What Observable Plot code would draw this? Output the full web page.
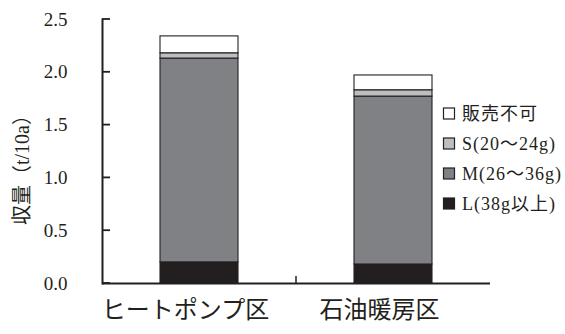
<!DOCTYPE html>
<html><head><meta charset="utf-8">
<script src="https://cdn.jsdelivr.net/npm/d3@7"></script>
<script src="https://cdn.jsdelivr.net/npm/@observablehq/plot@0.6"></script>
<style>
body{margin:0;background:#fff}
#chart{position:relative;width:565px;height:334px}
</style>
</head><body><div id="chart"></div>
<script>
const categories = ["ヒートポンプ区", "石油暖房区"];
const series = ["L(38g以上)", "M(26～36g)", "S(20～24g)", "販売不可"];
const colors = ["#231f20", "#808184", "#bcbec0", "#ffffff"];
const valuesL = [0.20, 0.18];
const valuesM = [1.93, 1.59];
const valuesS = [0.05, 0.06];
const valuesU = [0.16, 0.14];
const yTicks = [0, 0.5, 1.0, 1.5, 2.0, 2.5];
const yTickLabels = ["0.0", "0.5", "1.0", "1.5", "2.0", "2.5"];
const yLabel = "収量（t/10a）";

const seriesValues = [valuesL, valuesM, valuesS, valuesU];
const data = [];
series.forEach((s, i) => categories.forEach((c, j) => data.push({category: c, series: s, value: seriesValues[i][j]})));

const ink = "#231f20";
const font = '"Liberation Serif", "Noto Sans CJK JP", serif';
const mLeft = 102;

const plot = Plot.plot({
  width: 565,
  height: 334,
  marginLeft: mLeft,
  marginRight: 75,
  marginTop: 19,
  marginBottom: 51,
  style: {fontFamily: font, fontSize: "19px", color: ink, background: "#fff"},
  x: {domain: categories, paddingInner: 0.6, paddingOuter: 0.3},
  y: {domain: [0, 2.5]},
  color: {domain: series, range: colors},
  marks: [
    Plot.barY(data, {x: "category", y: "value", fill: "series", order: series, stroke: ink, strokeWidth: 1.1}),
    Plot.axisY(yTicks, {tickSize: 0, tickPadding: 35, tickFormat: (d) => yTickLabels[yTicks.indexOf(d)], fontSize: 19, fill: ink, label: null}),
    Plot.axisX({tickSize: 0, tickPadding: 17, dx: -14, fontSize: 24, fill: ink, label: null}),
    Plot.ruleY([0], {stroke: ink, strokeWidth: 2}),
    Plot.frame({anchor: "left", stroke: ink, strokeWidth: 2})
  ]
});
document.getElementById("chart").appendChild(plot);

const svg = d3.select(plot);
const xs = plot.scale("x");
const ys = plot.scale("y");

// inward y ticks
const tg = svg.append("g");
yTicks.forEach((t) => {
  const y = ys.apply(t);
  tg.append("line").attr("x1", mLeft).attr("x2", mLeft + 8).attr("y1", y).attr("y2", y)
    .attr("stroke", ink).attr("stroke-width", 1.8);
});

// category boundary tick
const step = xs.step, bw = xs.bandwidth;
const bx = xs.apply(categories[1]) - (step - bw) / 2;
svg.append("line").attr("x1", bx).attr("x2", bx).attr("y1", ys.apply(0)).attr("y2", ys.apply(0) - 7)
  .attr("stroke", ink).attr("stroke-width", 1.5);

// y label
svg.append("text").attr("transform", "translate(22,165) rotate(-90)")
  .attr("text-anchor", "middle").attr("dominant-baseline", "central")
  .attr("font-size", 20).attr("fill", ink).attr("font-family", font).text(yLabel);

// legend
const legendItems = series.map((s, i) => ({s, c: colors[i]})).reverse();
const lg = svg.append("g").attr("text-anchor", "start");
legendItems.forEach((d, i) => {
  const cy = 114 + i * 30;
  lg.append("rect").attr("x", 443.5).attr("y", cy - 6).attr("width", 11).attr("height", 11)
    .attr("fill", d.c).attr("stroke", ink).attr("stroke-width", 1.2);
  lg.append("text").attr("x", 462).attr("y", cy).attr("dominant-baseline", "central")
    .attr("text-anchor", "start").attr("letter-spacing", 1)
    .attr("font-size", 18).attr("fill", ink).attr("font-family", font).text(d.s);
});
</script>
</body></html>
